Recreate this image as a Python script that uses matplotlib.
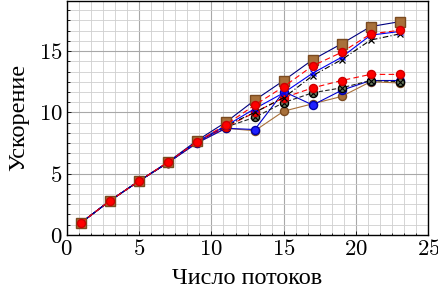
import matplotlib
matplotlib.use("Agg")
import matplotlib.pyplot as plt
from matplotlib.ticker import MultipleLocator

plt.rcParams['mathtext.fontset'] = 'cm'
plt.rcParams['font.family'] = ['Liberation Serif', 'DejaVu Serif']

threads = [1, 3, 5, 7, 9, 11, 13, 15, 17, 19, 21, 23]

# upper group
sq_brown = [1.0, 2.8, 4.4, 5.95, 7.7, 9.2, 11.0, 12.6, 14.3, 15.6, 17.0, 17.4]
ci_red_hi = [1.0, 2.8, 4.4, 5.95, 7.6, 9.0, 10.6, 12.1, 13.8, 14.9, 16.4, 16.7]
x_blue = [1.0, 2.8, 4.4, 5.9, 7.6, 8.9, 10.3, 11.6, 13.2, 14.5, 16.3, 16.6]
star_black = [1.0, 2.8, 4.4, 5.9, 7.6, 8.9, 10.0, 11.2, 13.0, 14.3, 15.9, 16.4]
# lower group
ci_red_lo = [1.0, 2.8, 4.4, 5.9, 7.6, 8.8, 10.0, 11.2, 12.0, 12.6, 13.1, 13.1]
ci_blue = [1.0, 2.8, 4.4, 5.9, 7.5, 8.7, 8.6, 11.7, 10.6, 11.8, 12.6, 12.6]
otimes = [1.0, 2.8, 4.4, 5.9, 7.6, 8.8, 9.6, 10.8, 11.6, 12.0, 12.6, 12.5]
ci_brown = [1.0, 2.8, 4.4, 5.9, 7.5, 8.7, 8.5, 10.1, 10.7, 11.3, 12.5, 12.4]

xticks = [0, 5, 10, 15, 20, 25]
yticks = [0, 5, 10, 15]

brown = '#a8703a'

fig = plt.figure(figsize=(4.39, 2.90), dpi=100)
ax = fig.add_axes([0.152, 0.19, 0.824, 0.807])

lw = 0.8
ms = 5.8
ax.plot(threads, ci_brown, color=brown, lw=lw, marker='o', ms=ms, mfc=brown, mec='#7a4a20', zorder=3)
ax.plot(threads, ci_blue, color='#0000cc', lw=lw, marker='o', ms=ms, mfc='#2020ff', mec='#0000aa', zorder=3)
ax.plot(threads, otimes, color='#222222', lw=lw, ls=(0, (4, 2)), marker='o', ms=ms, mfc='#6b7b60', mec='black', zorder=3)
ax.plot(threads, otimes, color='none', lw=0, marker='x', ms=4, mec='black', mew=0.8, zorder=3)
ax.plot(threads, ci_red_lo, color='red', lw=lw, ls=(0, (5, 3)), marker='o', ms=ms, mfc='red', mec='#cc0000', zorder=3)

ax.plot(threads, star_black, color='black', lw=lw, ls=(0, (5, 2, 1, 2)), marker='x', ms=4.5, mec='black', mew=0.9, zorder=4)
ax.plot(threads, x_blue, color='#0000ee', lw=lw, marker='x', ms=4.5, mec='#0000ee', mew=0.9, zorder=4)
ax.plot(threads, sq_brown, color='#000080', lw=lw, marker='s', ms=6.5, mfc=brown, mec='#7a4a20', zorder=4)
ax.plot(threads, ci_red_hi, color='red', lw=lw, ls=(0, (5, 3)), marker='o', ms=ms, mfc='red', mec='#cc0000', zorder=5)

ax.set_xlim(0, 25)
ax.set_ylim(0, 19.1)
ax.set_xticks(xticks)
ax.set_yticks(yticks)
ax.set_xticklabels([f'${t}$' for t in xticks])
ax.set_yticklabels([f'${t}$' for t in yticks])
ax.xaxis.set_minor_locator(MultipleLocator(5 / 6))
ax.yaxis.set_minor_locator(MultipleLocator(5 / 6))
ax.grid(True, which='major', color='#a8a8a8', lw=0.8)
ax.grid(True, which='minor', color='#cfcfcf', lw=0.6)
ax.set_axisbelow(True)
ax.tick_params(which='both', direction='in', length=3, width=0.6, labelsize=16.5, pad=3)
ax.tick_params(which='minor', length=1.8)
for s in ax.spines.values():
    s.set_linewidth(1.0)

ax.set_xlabel('Число потоков', fontsize=17.5, labelpad=6)
ax.set_ylabel('Ускорение', fontsize=17.5, labelpad=7)

fig.savefig('out.png', dpi=100)
